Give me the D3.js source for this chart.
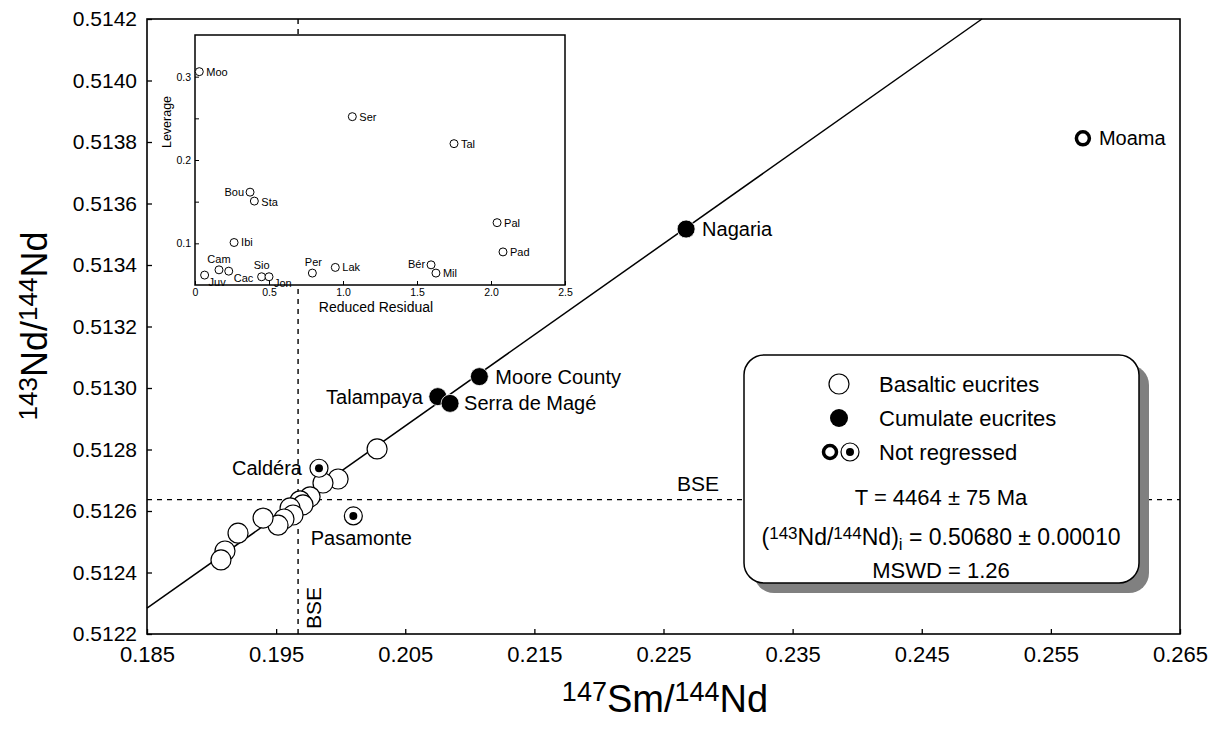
<!DOCTYPE html>
<html>
<head>
<meta charset="utf-8">
<script src="https://cdn.jsdelivr.net/npm/d3@7"></script>
<style>
  body { margin: 0; background: #fff; }
  svg { display: block; font-family: "Liberation Sans", Arial, sans-serif; }
</style>
</head>
<body>
<div id="chart"></div>
<script>
// Sm-Nd isochron of eucrites, with leverage / residual inset

const xTicks = [0.185, 0.195, 0.205, 0.215, 0.225, 0.235, 0.245, 0.255, 0.265];
const yTicks = [0.5122, 0.5124, 0.5126, 0.5128, 0.513, 0.5132, 0.5134, 0.5136, 0.5138, 0.514, 0.5142];

// basaltic eucrites (open)
const basalticX = [0.20282, 0.1998, 0.19863, 0.19763, 0.19685, 0.19708, 0.19608, 0.19631, 0.19561, 0.19515, 0.19399, 0.19205, 0.19104, 0.19073];
const basalticY = [0.512802, 0.512704, 0.512691, 0.512646, 0.512633, 0.51262, 0.51261, 0.512587, 0.512574, 0.512554, 0.512577, 0.512528, 0.51247, 0.512441];

// cumulate eucrites (filled)
const cumulateNames = ["Nagaria", "Moore County", "Talampaya", "Serra de Magé"];
const cumulateX = [0.22675, 0.21074, 0.20752, 0.20847];
const cumulateY = [0.513517, 0.513037, 0.512972, 0.51295];

// not regressed
const excludedNames = ["Moama", "Caldéra", "Pasamonte"];
const excludedX = [0.25748, 0.19832, 0.20098];
const excludedY = [0.513812, 0.512739, 0.512584];
const excludedKind = ["cumulate", "basaltic", "basaltic"];

// isochron end points
const isochronX = [0.185, 0.24966];
const isochronY = [0.512284, 0.5142];

// bulk silicate earth reference
const bseX = 0.1967;
const bseY = 0.512637;

// inset: leverage vs reduced residual
const insetNames = ["Moo", "Ser", "Tal", "Bou", "Sta", "Pal", "Ibi", "Pad", "Cam", "Cac", "Juv", "Sio", "Jon", "Per", "Lak", "Bér", "Mil"];
const insetResidual = [0.029, 1.063, 1.75, 0.372, 0.401, 2.041, 0.264, 2.081, 0.162, 0.228, 0.065, 0.45, 0.5, 0.793, 0.948, 1.595, 1.628];
const insetLeverage = [0.306, 0.252, 0.2196, 0.1614, 0.1507, 0.1248, 0.101, 0.0897, 0.0682, 0.0666, 0.0619, 0.0599, 0.0599, 0.0643, 0.0711, 0.0742, 0.0643];
const insetXTicks = [0, 0.5, 1, 1.5, 2, 2.5];
const insetYTicks = [0.1, 0.15, 0.2, 0.25, 0.3];

const statsLines = ["T = 4464 ± 75 Ma", "MSWD = 1.26"];

// label placement (px offsets from the point)
const labelPos = {
  "Nagaria": [16, 0, "start"],
  "Moore County": [16, 0, "start"],
  "Talampaya": [-15, 0, "end"],
  "Serra de Magé": [14, 0, "start"],
  "Moama": [16, 0, "start"],
  "Caldéra": [-17, 0, "end"],
  "Pasamonte": [8, 22, "middle"]
};
const insetLabelPos = {
  "Moo": [7, 0, "start"], "Ser": [7, 0, "start"], "Tal": [7, 0, "start"],
  "Bou": [-6, 0, "end"], "Sta": [7, 1, "start"], "Pal": [7, 0, "start"],
  "Ibi": [7, 0, "start"], "Pad": [7, 0, "start"], "Cam": [0, -11, "middle"],
  "Cac": [5, 7, "start"], "Juv": [4, 7, "start"], "Sio": [0, -12, "middle"],
  "Jon": [5, 6, "start"], "Per": [1, -11, "middle"], "Lak": [7, 0, "start"],
  "Bér": [-6, -1, "end"], "Mil": [7, 0, "start"]
};

const width = 1219;
const height = 729;
const font = "Liberation Sans, Arial, sans-serif";

const svg = d3.select("#chart").append("svg")
  .attr("width", width)
  .attr("height", height);

const x = d3.scaleLinear().domain([0.185, 0.265]).range([147, 1180]);
const y = d3.scaleLinear().domain([0.5122, 0.5142]).range([634, 19]);

// axes
svg.append("g")
  .attr("transform", `translate(0,${y.range()[0]})`)
  .call(d3.axisBottom(x).tickValues(xTicks).tickFormat(d3.format(".3f"))
    .tickSizeInner(-5).tickSizeOuter(0).tickPadding(12))
  .call((g) => g.select(".domain").remove())
  .call((g) => g.selectAll(".tick line").attr("stroke-width", 1.3))
  .call((g) => g.selectAll(".tick text").attr("font-size", "22px").attr("font-family", font));

svg.append("g")
  .attr("transform", `translate(${x.range()[0]},0)`)
  .call(d3.axisLeft(y).tickValues(yTicks).tickFormat(d3.format(".4f"))
    .tickSizeInner(-5).tickSizeOuter(0).tickPadding(10))
  .call((g) => g.select(".domain").remove())
  .call((g) => g.selectAll(".tick line").attr("stroke-width", 1.3))
  .call((g) => g.selectAll(".tick text").attr("font-size", "21px").attr("font-family", font));

// frame
svg.append("rect")
  .attr("x", x.range()[0]).attr("y", y.range()[1])
  .attr("width", x.range()[1] - x.range()[0])
  .attr("height", y.range()[0] - y.range()[1])
  .attr("fill", "none").attr("stroke", "#000").attr("stroke-width", 1.6);

// BSE reference lines
svg.append("line")
  .attr("x1", x(bseX)).attr("x2", x(bseX))
  .attr("y1", y.range()[1]).attr("y2", y.range()[0])
  .attr("stroke", "#000").attr("stroke-width", 1.4).attr("stroke-dasharray", "5,5");
svg.append("line")
  .attr("x1", x.range()[0]).attr("x2", x.range()[1])
  .attr("y1", y(bseY)).attr("y2", y(bseY))
  .attr("stroke", "#000").attr("stroke-width", 1.4).attr("stroke-dasharray", "5,5");

svg.append("text")
  .attr("x", 698).attr("y", y(bseY) - 9)
  .attr("text-anchor", "middle").attr("font-size", "21px")
  .text("BSE");
svg.append("text")
  .attr("transform", `translate(${x(bseX) + 23},${608}) rotate(-90)`)
  .attr("text-anchor", "middle").attr("font-size", "21px")
  .text("BSE");

// isochron
svg.append("line")
  .attr("x1", x(isochronX[0])).attr("y1", y(isochronY[0]))
  .attr("x2", x(isochronX[1])).attr("y2", y(isochronY[1]))
  .attr("stroke", "#000").attr("stroke-width", 1.5);

// inset panel
const xi = d3.scaleLinear().domain([0, 2.5]).range([195, 565]);
const yi = d3.scaleLinear().domain([0.05, 0.35]).range([285, 35]);

svg.append("rect")
  .attr("x", xi.range()[0]).attr("y", yi.range()[1])
  .attr("width", xi.range()[1] - xi.range()[0])
  .attr("height", yi.range()[0] - yi.range()[1])
  .attr("fill", "#fff").attr("stroke", "#000").attr("stroke-width", 1.5);

svg.append("g")
  .attr("transform", `translate(0,${yi.range()[0]})`)
  .call(d3.axisBottom(xi).tickValues(insetXTicks)
    .tickFormat((d) => (d === 0 ? "0" : d3.format(".1f")(d)))
    .tickSizeInner(-4).tickSizeOuter(0).tickPadding(4))
  .call((g) => g.select(".domain").remove())
  .call((g) => g.selectAll(".tick text").attr("font-size", "10.5px").attr("font-family", font));

svg.append("g")
  .attr("transform", `translate(${xi.range()[0]},0)`)
  .call(d3.axisLeft(yi).tickValues(insetYTicks)
    .tickFormat((d) => ([0.1, 0.2, 0.3].includes(d) ? d3.format(".1f")(d) : ""))
    .tickSizeInner(-4).tickSizeOuter(0).tickPadding(4))
  .call((g) => g.select(".domain").remove())
  .call((g) => g.selectAll(".tick text").attr("font-size", "10.5px").attr("font-family", font));

svg.append("text")
  .attr("x", (xi.range()[0] + xi.range()[1]) / 2 - 4).attr("y", 312)
  .attr("text-anchor", "middle").attr("font-size", "14px")
  .text("Reduced Residual");
svg.append("text")
  .attr("transform", `translate(171,${122}) rotate(-90)`)
  .attr("text-anchor", "middle").attr("font-size", "12.5px")
  .text("Leverage");

const insetData = insetNames.map((n, i) => ({ name: n, r: insetResidual[i], l: insetLeverage[i] }));
const ip = svg.append("g").selectAll("g").data(insetData).join("g")
  .attr("transform", (d) => `translate(${xi(d.r)},${yi(d.l)})`);
ip.append("circle").attr("r", 4).attr("fill", "#fff").attr("stroke", "#000").attr("stroke-width", 1);
ip.append("text")
  .attr("x", (d) => insetLabelPos[d.name][0])
  .attr("y", (d) => insetLabelPos[d.name][1])
  .attr("dy", "0.35em")
  .attr("text-anchor", (d) => insetLabelPos[d.name][2])
  .attr("font-size", "11px")
  .text((d) => d.name);

// legend box
const lg = svg.append("g");
lg.append("rect")
  .attr("x", 754).attr("y", 365).attr("width", 395).attr("height", 228)
  .attr("rx", 20).attr("fill", "#808080");
lg.append("rect")
  .attr("x", 744).attr("y", 355).attr("width", 395).attr("height", 228)
  .attr("rx", 20).attr("fill", "#fff").attr("stroke", "#000").attr("stroke-width", 1.5);

lg.append("circle").attr("cx", 839).attr("cy", 384).attr("r", 10)
  .attr("fill", "#fff").attr("stroke", "#000").attr("stroke-width", 1.2);
lg.append("circle").attr("cx", 839).attr("cy", 418).attr("r", 9).attr("fill", "#000");
lg.append("circle").attr("cx", 830).attr("cy", 452).attr("r", 6.5)
  .attr("fill", "#fff").attr("stroke", "#000").attr("stroke-width", 3.5);
lg.append("circle").attr("cx", 850).attr("cy", 452).attr("r", 9)
  .attr("fill", "#fff").attr("stroke", "#000").attr("stroke-width", 1.2);
lg.append("circle").attr("cx", 850).attr("cy", 452).attr("r", 4).attr("fill", "#000");

const legendText = ["Basaltic eucrites", "Cumulate eucrites", "Not regressed"];
const legendRowY = [384, 418, 452];
legendText.forEach((t, i) => {
  lg.append("text").attr("x", 879).attr("y", legendRowY[i]).attr("dy", "0.35em")
    .attr("font-size", "22px").text(t);
});
lg.append("text").attr("x", 941).attr("y", 497).attr("dy", "0.35em")
  .attr("text-anchor", "middle").attr("font-size", "22px").text(statsLines[0]);
const ratioLine = lg.append("text").attr("x", 941).attr("y", 537).attr("dy", "0.35em")
  .attr("text-anchor", "middle").attr("font-size", "23px");
ratioLine.append("tspan").text("(");
ratioLine.append("tspan").attr("font-size", "17px").attr("baseline-shift", "6px").text("143");
ratioLine.append("tspan").text("Nd/");
ratioLine.append("tspan").attr("font-size", "17px").attr("baseline-shift", "6px").text("144");
ratioLine.append("tspan").text("Nd)");
ratioLine.append("tspan").attr("font-size", "17px").attr("baseline-shift", "-5px").text("i");
ratioLine.append("tspan").text(" = 0.50680 ± 0.00010");
lg.append("text").attr("x", 941).attr("y", 570).attr("dy", "0.35em")
  .attr("text-anchor", "middle").attr("font-size", "22px").text(statsLines[1]);

// data points
const basaltic = basalticX.map((v, i) => ({ x: v, y: basalticY[i] }));
svg.append("g").selectAll("circle").data(basaltic).join("circle")
  .attr("cx", (d) => x(d.x)).attr("cy", (d) => y(d.y)).attr("r", 10)
  .attr("fill", "#fff").attr("stroke", "#000").attr("stroke-width", 1.2);

const cumulate = cumulateNames.map((n, i) => ({ name: n, x: cumulateX[i], y: cumulateY[i] }));
const cg = svg.append("g").selectAll("g").data(cumulate).join("g")
  .attr("transform", (d) => `translate(${x(d.x)},${y(d.y)})`);
cg.append("circle").attr("r", 9).attr("fill", "#000").attr("stroke", "#fff").attr("stroke-width", 0.8);

const excluded = excludedNames.map((n, i) => ({ name: n, x: excludedX[i], y: excludedY[i], kind: excludedKind[i] }));
const eg = svg.append("g").selectAll("g").data(excluded).join("g")
  .attr("transform", (d) => `translate(${x(d.x)},${y(d.y)})`);
eg.filter((d) => d.kind === "cumulate").append("circle").attr("r", 6.5)
  .attr("fill", "#fff").attr("stroke", "#000").attr("stroke-width", 3.5);
eg.filter((d) => d.kind === "basaltic").append("circle").attr("r", 9)
  .attr("fill", "#fff").attr("stroke", "#000").attr("stroke-width", 1.2);
eg.filter((d) => d.kind === "basaltic").append("circle").attr("r", 4).attr("fill", "#000");

// point labels
svg.append("g").selectAll("text").data(cumulate.concat(excluded)).join("text")
  .attr("x", (d) => x(d.x) + labelPos[d.name][0])
  .attr("y", (d) => y(d.y) + labelPos[d.name][1])
  .attr("dy", "0.35em")
  .attr("text-anchor", (d) => labelPos[d.name][2])
  .attr("font-size", "20px")
  .text((d) => d.name);

// axis titles
const xt = svg.append("text").attr("x", 665).attr("y", 712)
  .attr("text-anchor", "middle").attr("font-size", "38px");
xt.append("tspan").attr("font-size", "27px").attr("baseline-shift", "11px").text("147");
xt.append("tspan").text("Sm/");
xt.append("tspan").attr("font-size", "27px").attr("baseline-shift", "11px").text("144");
xt.append("tspan").text("Nd");

const yt = svg.append("text").attr("transform", `translate(47,${326}) rotate(-90)`)
  .attr("text-anchor", "middle").attr("font-size", "36px");
yt.append("tspan").attr("font-size", "26px").attr("baseline-shift", "10px").text("143");
yt.append("tspan").text("Nd/");
yt.append("tspan").attr("font-size", "26px").attr("baseline-shift", "10px").text("144");
yt.append("tspan").text("Nd");
</script>
</body>
</html>
